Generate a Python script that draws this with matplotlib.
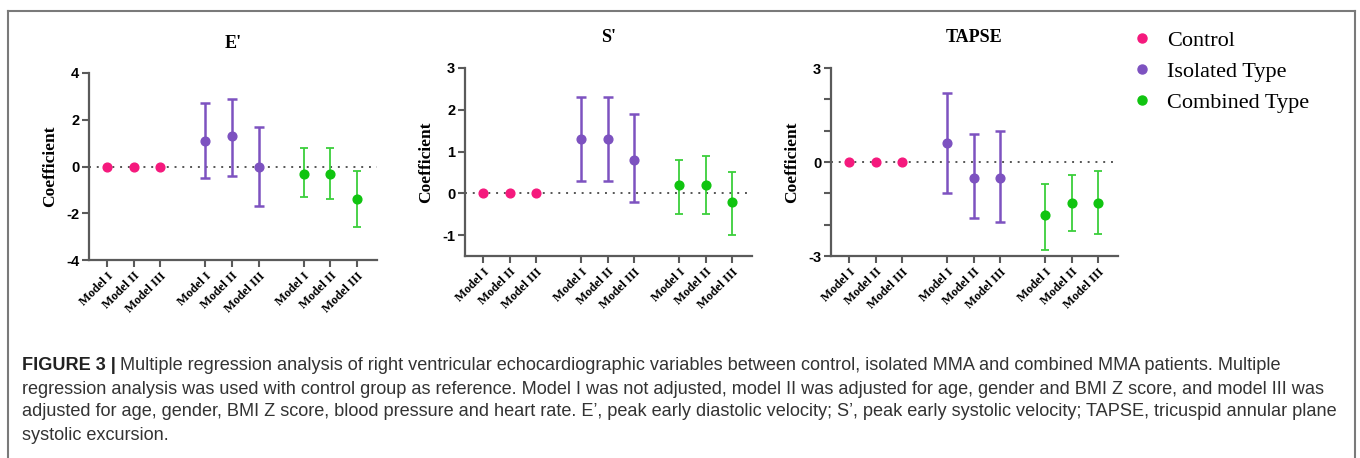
import matplotlib
matplotlib.use("Agg")
import matplotlib.pyplot as plt
from matplotlib.lines import Line2D
import numpy as np

# ---------------- data ----------------
models = ["Model I", "Model II", "Model III"]
groups = ["Control", "Isolated Type", "Combined Type"]
panels = ["E'", "S'", "TAPSE"]

# E'
e_control = [0.0, 0.0, 0.0]
e_isolated = [1.1, 1.3, 0.0]
e_isolated_lo = [-0.5, -0.4, -1.7]
e_isolated_hi = [2.7, 2.9, 1.7]
e_combined = [-0.3, -0.3, -1.4]
e_combined_lo = [-1.3, -1.4, -2.6]
e_combined_hi = [0.8, 0.8, -0.2]

# S'
s_control = [0.0, 0.0, 0.0]
s_isolated = [1.3, 1.3, 0.8]
s_isolated_lo = [0.3, 0.3, -0.2]
s_isolated_hi = [2.3, 2.3, 1.9]
s_combined = [0.2, 0.2, -0.2]
s_combined_lo = [-0.5, -0.5, -1.0]
s_combined_hi = [0.8, 0.9, 0.5]

# TAPSE
t_control = [0.0, 0.0, 0.0]
t_isolated = [0.6, -0.5, -0.5]
t_isolated_lo = [-1.0, -1.8, -1.9]
t_isolated_hi = [2.2, 0.9, 1.0]
t_combined = [-1.7, -1.3, -1.3]
t_combined_lo = [-2.8, -2.2, -2.3]
t_combined_hi = [-0.7, -0.4, -0.3]

caption_lines = [
    "Multiple regression analysis of right ventricular echocardiographic variables between control, isolated MMA and combined MMA patients. Multiple",
    "regression analysis was used with control group as reference. Model I was not adjusted, model II was adjusted for age, gender and BMI Z score, and model III was",
    "adjusted for age, gender, BMI Z score, blood pressure and heart rate. E\u2019, peak early diastolic velocity; S\u2019, peak early systolic velocity; TAPSE, tricuspid annular plane",
    "systolic excursion.",
]

# ---------------- style ----------------
c_control = "#F5197D"
c_isolated = "#7D52C0"
c_combined = "#10C410"
c_combined_err = "#3CCF3C"
spine_c = "#5a5a5a"

W, H = 1360, 458
fig = plt.figure(figsize=(W / 100, H / 100), dpi=100)

def fx(px):
    return px / W

def fy(py):
    return 1 - py / H

# axes boxes in pixels: left, right, top, bottom
boxes = [(89, 377, 73, 260), (465, 752, 68, 256), (831, 1118, 68, 256)]
ylims = [(-4, 4), (-1.5, 3), (-3, 3)]
yticks = [[-4, -2, 0, 2, 4], [-1, 0, 1, 2, 3], [-3, -2, -1, 0, 1, 2, 3]]
ylabels = [["-4", "-2", "0", "2", "4"], ["-1", "0", "1", "2", "3"],
           ["-3", "", "", "0", "", "", "3"]]
title_y = [43, 37, 37]

data = [
    (e_control, e_isolated, e_isolated_lo, e_isolated_hi, e_combined, e_combined_lo, e_combined_hi),
    (s_control, s_isolated, s_isolated_lo, s_isolated_hi, s_combined, s_combined_lo, s_combined_hi),
    (t_control, t_isolated, t_isolated_lo, t_isolated_hi, t_combined, t_combined_lo, t_combined_hi),
]

gap = 1.68
x_ctrl = np.arange(3, dtype=float)
x_iso = x_ctrl + 2 + gap
x_comb = x_iso + 2 + gap
xs_all = np.concatenate([x_ctrl, x_iso, x_comb])

for i, (box, yl, yt, ylab, d) in enumerate(zip(boxes, ylims, yticks, ylabels, data)):
    l, r, t, b = box
    ax = fig.add_axes([fx(l), fy(b), fx(r - l), (b - t) / H])
    ctrl, iso, iso_lo, iso_hi, comb, comb_lo, comb_hi = [np.array(v) for v in d]

    ax.axhline(0, color="#555555", lw=1.4, ls=(0, (1, 3)), zorder=1)

    ax.plot(x_ctrl, ctrl, "o", color=c_control, ms=6.3, zorder=3)
    ax.errorbar(x_iso, iso, yerr=[iso - iso_lo, iso_hi - iso], fmt="o",
                color=c_isolated, ecolor=c_isolated, ms=6.3, elinewidth=1.8,
                capsize=3.3, capthick=1.8, zorder=3)
    ax.errorbar(x_comb, comb, yerr=[comb - comb_lo, comb_hi - comb], fmt="o",
                color=c_combined, ecolor=c_combined_err, ms=6.3, elinewidth=1.3,
                capsize=3.1, capthick=1.3, zorder=3)

    ax.set_xlim(-0.67, 10.1)
    ax.set_ylim(*yl)
    ax.set_yticks(yt)
    ax.set_yticklabels(ylab, fontsize=10.5, fontweight="bold", family="Liberation Sans")
    ax.set_xticks(xs_all)
    ax.set_xticklabels(models * 3, rotation=45, ha="right", rotation_mode="anchor",
                       fontsize=9, fontweight="bold", family="Liberation Serif")
    for s in ["top", "right"]:
        ax.spines[s].set_visible(False)
    for s in ["left", "bottom"]:
        ax.spines[s].set_color(spine_c)
        ax.spines[s].set_linewidth(1.6)
    ax.tick_params(axis="both", length=5, width=1.5, color=spine_c, pad=2)
    ax.set_ylabel("Coefficient", fontsize=12.5, fontweight="bold",
                  family="Liberation Serif", labelpad=6)
    fig.text(fx((l + r) / 2), fy(title_y[i]), panels[i], ha="center", va="center",
             fontsize=13, fontweight="bold", family="Liberation Serif")

# legend
handles = [Line2D([], [], ls="none", marker="o", ms=6.5, color=c)
           for c in (c_control, c_isolated, c_combined)]
fig.legend(handles, groups, loc="upper left", bbox_to_anchor=(fx(1120), fy(19)),
           frameon=False, prop={"family": "Liberation Serif", "size": 16},
           labelspacing=0.48, handletextpad=0.6, handlelength=1.0, borderpad=0)

# caption
cap_fs = 13.1
x0 = fx(22)
ys = [366, 389, 412, 435]
lab = fig.text(x0, fy(ys[0]), "FIGURE 3 |", fontsize=cap_fs, fontweight="bold",
               family="Liberation Sans", va="center", color="#222222")
fig.canvas.draw()
bb = lab.get_window_extent()
fig.text(bb.x1 / W + fx(4), fy(ys[0]), caption_lines[0], fontsize=cap_fs,
         family="Liberation Sans", va="center", color="#333333")
for yy, line in zip(ys[1:], caption_lines[1:]):
    fig.text(x0, fy(yy), line, fontsize=cap_fs, family="Liberation Sans",
             va="center", color="#333333")

# outer frame (left, top, right)
frame_c = "#7a7a7a"
fig.add_artist(Line2D([fx(8), fx(8)], [0, fy(11)], color=frame_c, lw=1.5))
fig.add_artist(Line2D([fx(8), fx(1355)], [fy(11), fy(11)], color=frame_c, lw=1.5))
fig.add_artist(Line2D([fx(1355), fx(1355)], [fy(11), 0], color=frame_c, lw=1.5))

fig.savefig("out.png", dpi=100)
